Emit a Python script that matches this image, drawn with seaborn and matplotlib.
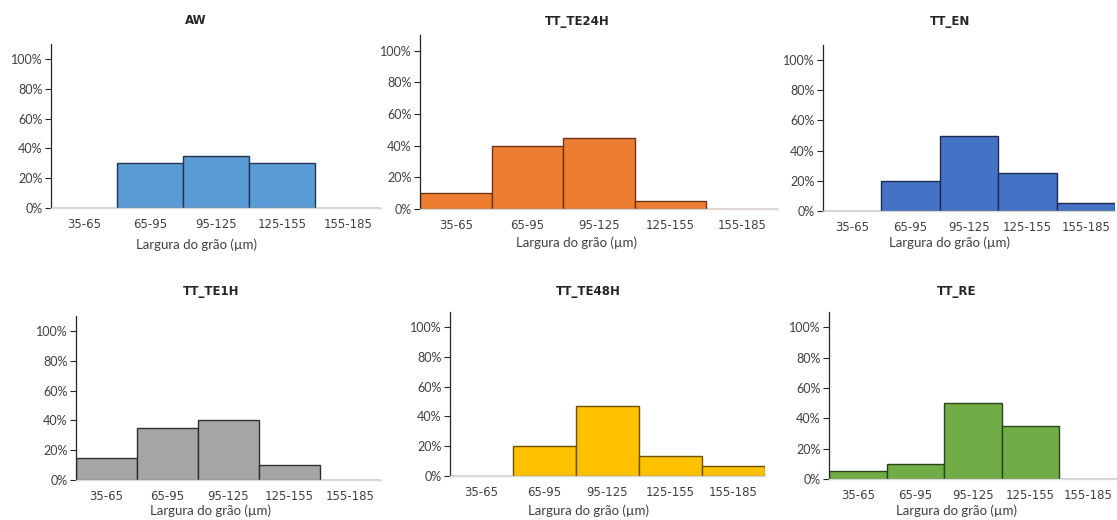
import matplotlib
matplotlib.use("Agg")
import matplotlib.pyplot as plt
from matplotlib.ticker import PercentFormatter, MultipleLocator
import seaborn as sns

# Grain-width classes (µm) and the relative frequency of each class per condition
classes = ["35-65", "65-95", "95-125", "125-155", "155-185"]

aw = [0.0, 0.30, 0.35, 0.30, 0.0]
tt_te24h = [0.10, 0.40, 0.45, 0.05, 0.0]
tt_en = [0.0, 0.20, 0.50, 0.25, 0.05]
tt_te1h = [0.15, 0.35, 0.40, 0.10, 0.0]
tt_te48h = [0.0, 3 / 15, 7 / 15, 2 / 15, 1 / 15]
tt_re = [0.05, 0.10, 0.50, 0.35, 0.0]

titles = ["AW", "TT_TE24H", "TT_EN", "TT_TE1H", "TT_TE48H", "TT_RE"]
series = [aw, tt_te24h, tt_en, tt_te1h, tt_te48h, tt_re]
fills = ["#5B9BD5", "#ED7D31", "#4472C4", "#A5A5A5", "#FFC000", "#70AD47"]
edges = ["#1F3550", "#6B3414", "#1C2B4F", "#2E2E2E", "#6B5000", "#2A441A"]

sns.set_theme(style="white")
plt.rcParams["font.family"] = ["Lato", "DejaVu Sans"]

W, H = 1117, 520
fig = plt.figure(figsize=(W / 100, H / 100), dpi=100)

# plot-area boxes in pixels: left, right, top (110 %), bottom (0 %)
boxes = [
    (51, 381, 44, 208),
    (420, 778, 35, 209),
    (823, 1115, 45, 211),
    (76, 381, 316, 480),
    (450, 765, 312, 476),
    (829, 1117, 312, 479),
]
# centre x of each chart block, with title and axis-label rows (pixels)
centres = [196, 577, 950, 211, 588, 957]
title_y = [21, 21, 21, 292, 292, 292]
label_y = [245, 243, 243, 511, 511, 511]

for i, (vals, title, fc, ec, box) in enumerate(zip(series, titles, fills, edges, boxes)):
    l, r, t, b = box
    ax = fig.add_axes([l / W, 1 - b / H, (r - l) / W, (b - t) / H])
    sns.barplot(x=classes, y=vals, ax=ax, color=fc, saturation=1, width=1.0,
                edgecolor=ec, linewidth=1.0)
    ax.set_xlim(-0.5, 4.5)
    ax.set_ylim(0, 1.1)
    ax.yaxis.set_major_locator(MultipleLocator(0.2))
    ax.yaxis.set_major_formatter(PercentFormatter(1.0, decimals=0))
    ax.set_ylabel("")
    ax.set_xlabel("Largura do grão (µm)", fontsize=9.5, color="#404040")
    ax.xaxis.label.set_va("center")
    ax.xaxis.set_label_coords(centres[i] / W, 1 - label_y[i] / H,
                              transform=fig.transFigure)
    for s in ("top", "right"):
        ax.spines[s].set_visible(False)
    ax.spines["left"].set_color("#262626")
    ax.spines["left"].set_linewidth(0.9)
    ax.spines["bottom"].set_color("#D9D9D9")
    ax.spines["bottom"].set_linewidth(1.0)
    ax.tick_params(axis="y", left=True, length=4, width=0.8, color="#262626",
                   labelsize=9, labelcolor="#404040", pad=2)
    ax.tick_params(axis="x", bottom=False, length=0, labelsize=8.5,
                   labelcolor="#404040", pad=7)
    for lab in ax.get_xticklabels():
        lab.set_family("DejaVu Sans")
    ax.set_facecolor("white")
    fig.text(centres[i] / W, 1 - title_y[i] / H, title, ha="center", va="center",
             fontsize=8.5, fontweight="bold", color="#262626", family="DejaVu Sans")

fig.savefig("out.png", dpi=100, facecolor="white")
